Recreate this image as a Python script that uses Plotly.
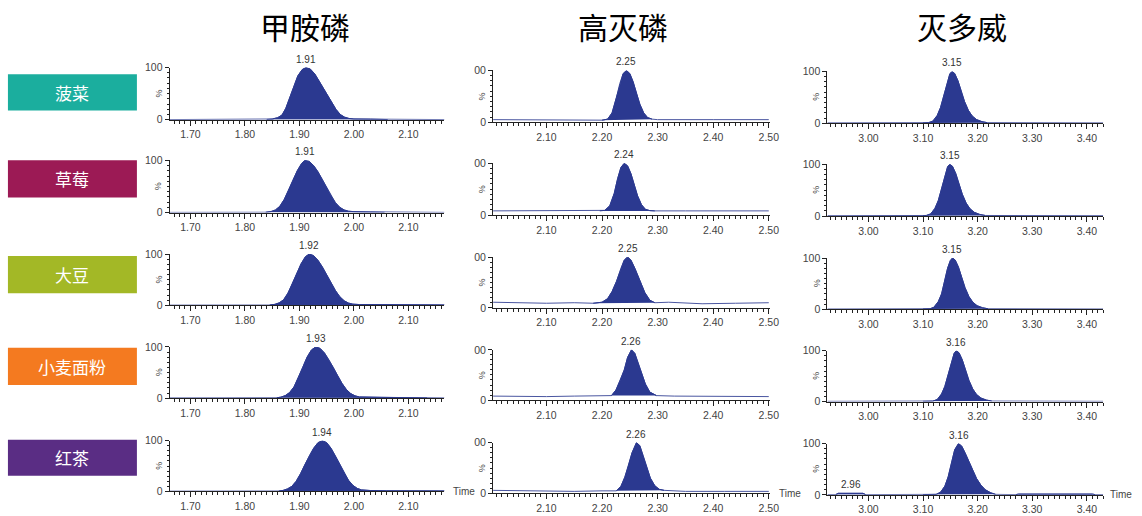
import plotly.graph_objects as go

W, H = 1142, 516

# ---------------- data ----------------
compounds = ["甲胺磷", "高灭磷", "灭多威"]
samples = ["菠菜", "草莓", "大豆", "小麦面粉", "红茶"]
rt_labels = [
    ["1.91", "1.91", "1.92", "1.93", "1.94"],
    ["2.25", "2.24", "2.25", "2.26", "2.26"],
    ["3.15", "3.15", "3.15", "3.16", "3.16"],
]
x_tick_values = [
    [1.70, 1.80, 1.90, 2.00, 2.10],
    [2.10, 2.20, 2.30, 2.40, 2.50],
    [3.00, 3.10, 3.20, 3.30, 3.40],
]
y_tick_values = [0, 100]
y_tick_text = [["0", "100"], ["0", "00"], ["0", "100"]]

# 甲胺磷 (column 1)
time_c1_r1 = [1.662, 1.75, 1.84, 1.850, 1.860, 1.868, 1.875, 1.883, 1.890, 1.897, 1.905, 1.912, 1.920, 1.928, 1.935, 1.943, 1.951, 1.959, 1.967, 1.975, 1.983, 1.991, 2.000, 2.030, 2.058, 2.062, 2.166]
inten_c1_r1 = [0.4, 0.4, 0.6, 1.5, 4, 9, 22, 45, 66, 84, 96, 100, 97, 88, 76, 62, 49, 34, 20, 10, 5, 2.5, 1.6, 1.3, 1.0, 0.4, 0.4]
time_c1_r2 = [1.662, 1.75, 1.838, 1.848, 1.856, 1.864, 1.872, 1.880, 1.888, 1.896, 1.904, 1.910, 1.918, 1.926, 1.934, 1.942, 1.950, 1.958, 1.966, 1.974, 1.982, 1.990, 2.000, 2.030, 2.052, 2.056, 2.166]
inten_c1_r2 = [0.4, 0.4, 0.6, 2, 5, 12, 25, 42, 62, 80, 94, 100, 98, 90, 78, 63, 47, 32, 19, 10, 5, 2.6, 1.8, 1.4, 1.2, 0.4, 0.4]
time_c1_r3 = [1.662, 1.75, 1.845, 1.855, 1.863, 1.871, 1.879, 1.887, 1.895, 1.903, 1.911, 1.918, 1.926, 1.934, 1.942, 1.950, 1.958, 1.966, 1.974, 1.982, 1.990, 1.998, 2.010, 2.050, 2.100, 2.130, 2.166]
inten_c1_r3 = [0.4, 0.4, 0.6, 2, 5, 11, 24, 42, 62, 81, 95, 100, 97, 88, 75, 60, 44, 29, 17, 9, 4.5, 2.4, 1.6, 1.2, 1.0, 1.2, 0.8]
time_c1_r4 = [1.662, 1.75, 1.858, 1.866, 1.874, 1.882, 1.890, 1.898, 1.906, 1.914, 1.922, 1.930, 1.938, 1.946, 1.954, 1.962, 1.970, 1.978, 1.986, 1.994, 2.002, 2.010, 2.050, 2.100, 2.130, 2.134, 2.166]
inten_c1_r4 = [0.4, 0.4, 0.7, 2, 5, 11, 22, 40, 60, 80, 94, 100, 97, 88, 75, 60, 44, 29, 17, 9, 4.5, 2.4, 1.6, 1.3, 1.1, 0.4, 0.4]
time_c1_r5 = [1.662, 1.75, 1.862, 1.870, 1.878, 1.886, 1.894, 1.902, 1.910, 1.918, 1.926, 1.934, 1.942, 1.950, 1.958, 1.966, 1.974, 1.982, 1.990, 1.998, 2.006, 2.014, 2.030, 2.060, 2.100, 2.140, 2.166]
inten_c1_r5 = [0.5, 0.5, 0.8, 2, 5, 10, 20, 35, 53, 70, 85, 96, 100, 96, 85, 70, 53, 36, 22, 12, 6, 3, 1.8, 1.2, 0.8, 1.0, 1.0]

# 高灭磷 (column 2)
time_c2_r1 = [2.004, 2.040, 2.045, 2.150, 2.200, 2.210, 2.218, 2.226, 2.232, 2.238, 2.244, 2.250, 2.256, 2.262, 2.268, 2.275, 2.282, 2.290, 2.300, 2.400, 2.500]
inten_c2_r1 = [5, 5, 4, 4, 4, 6, 18, 48, 75, 94, 100, 94, 78, 56, 35, 18, 9, 6, 5, 5, 5]
time_c2_r2 = [2.004, 2.100, 2.150, 2.196, 2.205, 2.214, 2.222, 2.228, 2.234, 2.240, 2.246, 2.252, 2.258, 2.264, 2.271, 2.278, 2.286, 2.295, 2.350, 2.420, 2.500]
inten_c2_r2 = [8, 8, 8, 8, 9, 18, 42, 70, 92, 100, 95, 80, 58, 37, 20, 11, 8.5, 8, 8, 8, 8]
time_c2_r3 = [2.004, 2.050, 2.100, 2.150, 2.184, 2.200, 2.210, 2.218, 2.226, 2.234, 2.240, 2.246, 2.252, 2.259, 2.268, 2.277, 2.286, 2.295, 2.320, 2.380, 2.440, 2.500]
inten_c2_r3 = [11, 10, 9, 10, 9, 11, 18, 32, 52, 78, 94, 100, 94, 78, 52, 30, 15, 10, 11, 8, 9, 10]
time_c2_r4 = [2.004, 2.050, 2.100, 2.150, 2.200, 2.217, 2.225, 2.233, 2.240, 2.246, 2.253, 2.259, 2.265, 2.271, 2.278, 2.286, 2.298, 2.330, 2.400, 2.420, 2.500]
inten_c2_r4 = [8, 7, 7, 8, 8, 9, 20, 40, 60, 85, 100, 93, 75, 55, 32, 16, 9, 8, 7, 8, 7]
time_c2_r5 = [2.004, 2.050, 2.100, 2.150, 2.200, 2.226, 2.234, 2.241, 2.247, 2.254, 2.262, 2.268, 2.274, 2.280, 2.287, 2.295, 2.303, 2.312, 2.350, 2.420, 2.500]
inten_c2_r5 = [6, 5, 4, 4, 5, 5, 14, 32, 52, 80, 100, 94, 74, 52, 30, 15, 8, 6, 4, 4, 4]

# 灭多威 (column 3)
time_c3_r1 = [2.925, 3.000, 3.100, 3.110, 3.118, 3.126, 3.132, 3.138, 3.144, 3.149, 3.153, 3.158, 3.164, 3.170, 3.176, 3.183, 3.190, 3.198, 3.208, 3.218, 3.300, 3.430]
inten_c3_r1 = [0.5, 0.5, 0.5, 1, 4, 15, 30, 55, 80, 95, 100, 96, 82, 62, 42, 25, 14, 7, 3, 1, 0.5, 0.5]
time_c3_r2 = [2.925, 3.000, 3.100, 3.106, 3.114, 3.122, 3.128, 3.134, 3.140, 3.145, 3.149, 3.154, 3.160, 3.166, 3.172, 3.179, 3.186, 3.194, 3.204, 3.214, 3.300, 3.430]
inten_c3_r2 = [0.5, 0.5, 0.5, 1, 4, 15, 30, 55, 80, 95, 100, 96, 82, 62, 42, 25, 14, 7, 3, 1, 0.5, 0.5]
time_c3_r3 = [2.925, 3.000, 3.100, 3.113, 3.120, 3.128, 3.134, 3.140, 3.145, 3.150, 3.154, 3.159, 3.165, 3.171, 3.177, 3.184, 3.191, 3.199, 3.209, 3.219, 3.300, 3.430]
inten_c3_r3 = [0.5, 0.5, 0.5, 1, 4, 15, 30, 55, 80, 95, 100, 96, 82, 62, 42, 25, 14, 7, 3, 1, 0.5, 0.5]
time_c3_r4 = [2.925, 3.000, 3.100, 3.118, 3.126, 3.134, 3.140, 3.146, 3.152, 3.157, 3.161, 3.166, 3.172, 3.178, 3.184, 3.191, 3.198, 3.206, 3.216, 3.226, 3.300, 3.430]
inten_c3_r4 = [0.5, 0.5, 0.5, 1, 4, 15, 30, 55, 80, 95, 100, 96, 82, 62, 42, 25, 14, 7, 3, 1, 0.5, 0.5]
time_c3_r5 = [2.925, 2.940, 2.945, 2.990, 2.995, 3.100, 3.124, 3.132, 3.140, 3.146, 3.152, 3.158, 3.165, 3.171, 3.177, 3.184, 3.191, 3.198, 3.206, 3.214, 3.224, 3.233, 3.270, 3.275, 3.410, 3.415, 3.430]
inten_c3_r5 = [0.5, 0.5, 3, 3, 0.5, 0.5, 1, 5, 17, 35, 62, 88, 100, 95, 82, 65, 48, 32, 19, 10, 4, 1, 0.5, 1.5, 1.5, 0.5, 0.5]

# integration windows (filled regions)
windows = {
    (0, 0): [(1.84, 2.062)], (0, 1): [(1.838, 2.056)], (0, 2): [(1.845, 2.166)],
    (0, 3): [(1.858, 2.134)], (0, 4): [(1.862, 2.166)],
    (1, 0): [(2.200, 2.290)], (1, 1): [(2.196, 2.295)], (1, 2): [(2.184, 2.295)],
    (1, 3): [(2.217, 2.298)], (1, 4): [(2.226, 2.312)],
    (2, 0): [(3.100, 3.218)], (2, 1): [(3.100, 3.214)], (2, 2): [(3.100, 3.219)],
    (2, 3): [(3.100, 3.226)], (2, 4): [(2.940, 2.995), (3.100, 3.233), (3.270, 3.415)],
}
minor_labels = {(2, 4): [("2.96", 2.9675, 3)]}

series = {
    (0, 0): (time_c1_r1, inten_c1_r1), (0, 1): (time_c1_r2, inten_c1_r2), (0, 2): (time_c1_r3, inten_c1_r3),
    (0, 3): (time_c1_r4, inten_c1_r4), (0, 4): (time_c1_r5, inten_c1_r5),
    (1, 0): (time_c2_r1, inten_c2_r1), (1, 1): (time_c2_r2, inten_c2_r2), (1, 2): (time_c2_r3, inten_c2_r3),
    (1, 3): (time_c2_r4, inten_c2_r4), (1, 4): (time_c2_r5, inten_c2_r5),
    (2, 0): (time_c3_r1, inten_c3_r1), (2, 1): (time_c3_r2, inten_c3_r2), (2, 2): (time_c3_r3, inten_c3_r3),
    (2, 3): (time_c3_r4, inten_c3_r4), (2, 4): (time_c3_r5, inten_c3_r5),
}

# ---------------- layout / style ----------------
sample_colors = ["#1BAE9E", "#9C1A55", "#A3B826", "#F47A20", "#5A2D84"]
box_y = [(70, 107), (158, 196), (256, 294), (350, 388), (444, 481)]
col_x = [(171, 448), (497, 776), (834, 1112)]
x_ranges = [(1.662, 2.166), (2.004, 2.502), (2.925, 3.43)]
y100 = [[63, 158, 254, 349, 445], [66, 161, 257, 352, 447], [67, 162, 258, 353, 448]]
y0 = [[116.5, 211.5, 306.5, 401.5, 497], [119, 214, 309, 403.5, 499], [120, 215, 310.5, 405, 500.5]]
title_x = [307, 628, 970]
time_x = [455, 783, 1117]

FILL = "#2B3990"
LINE = "#4A56A0"
AX = "#222222"
TXT = "#444444"
FONT = "Liberation Sans, Arial, sans-serif"
CJK = "Noto Sans CJK SC"


def px(x):
    return x / W


def py(y):
    return 1 - y / H


fig = go.Figure()
layout = dict(
    width=W, height=H, margin=dict(l=0, r=0, t=0, b=0), autosize=False,
    paper_bgcolor="white", plot_bgcolor="white", showlegend=False,
    shapes=[], annotations=[],
)

idx = 0
for c in range(3):
    for r in range(5):
        idx += 1
        xa = "x" if idx == 1 else f"x{idx}"
        ya = "y" if idx == 1 else f"y{idx}"
        xkey = "xaxis" if idx == 1 else f"xaxis{idx}"
        ykey = "yaxis" if idx == 1 else f"yaxis{idx}"
        t, v = series[(c, r)]
        fig.add_trace(go.Scatter(x=t, y=v, mode="lines", xaxis=xa, yaxis=ya,
                                 line=dict(color=LINE, width=1), hoverinfo="skip"))
        for (a, b) in windows[(c, r)]:
            sx = [ti for ti in t if a <= ti <= b]
            sy = [vi for ti, vi in zip(t, v) if a <= ti <= b]
            fig.add_trace(go.Scatter(x=sx, y=sy, mode="lines", fill="toself", fillcolor=FILL,
                                     xaxis=xa, yaxis=ya, line=dict(color=FILL, width=1),
                                     hoverinfo="skip"))
        layout[xkey] = dict(
            domain=[px(col_x[c][0]), px(col_x[c][1])], range=list(x_ranges[c]), anchor=ya,
            showline=True, linecolor=AX, linewidth=1, mirror=False,
            tickmode="array", tickvals=x_tick_values[c],
            ticktext=[f"{v_:.2f}" for v_ in x_tick_values[c]],
            ticks="outside", ticklen=5, tickcolor=AX, tickwidth=1,
            minor=dict(tickmode="linear", tick0=0, dtick=0.01, ticks="outside", ticklen=3,
                       tickcolor=AX, tickwidth=1, showgrid=False),
            showgrid=False, zeroline=False, tickfont=dict(family=FONT, size=10.5, color=TXT),
        )
        layout[ykey] = dict(
            domain=[py(y0[c][r]), py(y100[c][r])], range=[0, 100], anchor=xa,
            showline=True, linecolor=AX, linewidth=1,
            tickmode="array", tickvals=y_tick_values, ticktext=y_tick_text[c],
            ticks="outside", ticklen=4, tickcolor=AX, tickwidth=1,
            minor=dict(tickmode="linear", tick0=0, dtick=10, ticks="outside", ticklen=2,
                       tickcolor=AX, tickwidth=1, showgrid=False),
            showgrid=False, zeroline=False, tickfont=dict(family=FONT, size=10.5, color=TXT),
        )
        layout["annotations"].append(dict(
            x=px(col_x[c][0] - 11), y=py((y0[c][r] + y100[c][r]) / 2), xref="paper", yref="paper",
            xanchor="center", yanchor="middle",
            text="%", showarrow=False, textangle=-90, font=dict(family=FONT, size=9, color=TXT)))
        apex = t[v.index(max(v))]
        layout["annotations"].append(dict(
            x=apex, y=100, xref=xa, yref=ya, text=rt_labels[c][r], showarrow=False,
            xanchor="center", yanchor="bottom", yshift=1,
            font=dict(family=FONT, size=10, color="#333333")))
        for (txt, tx, ty) in minor_labels.get((c, r), []):
            layout["annotations"].append(dict(
                x=tx, y=ty, xref=xa, yref=ya, text=txt, showarrow=False,
                xanchor="center", yanchor="bottom", yshift=1,
                font=dict(family=FONT, size=10, color="#333333")))
        if r == 4:
            layout["annotations"].append(dict(
                x=px(time_x[c]), y=py(y0[c][r]), xref="paper", yref="paper", text="Time",
                showarrow=False, xanchor="left", yanchor="middle",
                font=dict(family=FONT, size=10, color=TXT)))

for c in range(3):
    layout["annotations"].append(dict(
        x=px(title_x[c]), y=py(20), xref="paper", yref="paper", text=compounds[c],
        xanchor="center", yanchor="middle",
        showarrow=False, font=dict(family=CJK, size=30, color="black")))

for r in range(5):
    layout["shapes"].append(dict(
        type="rect", xref="paper", yref="paper", x0=px(8), x1=px(138),
        y0=py(box_y[r][1]), y1=py(box_y[r][0]), fillcolor=sample_colors[r], line=dict(width=0)))
    layout["annotations"].append(dict(
        x=px(73), y=py((box_y[r][0] + box_y[r][1]) / 2), xref="paper", yref="paper",
        xanchor="center", yanchor="middle",
        text=samples[r], showarrow=False, font=dict(family=CJK, size=17, color="white")))

fig.update_layout(**layout)
fig.write_html(
    "out.html",
    config={"displayModeBar": False},
    post_script=(
        "var de=document.documentElement;de.style.margin='0';de.style.padding='0';"
        "de.style.overflow='hidden';"
        "var b=document.body;b.style.margin='0';b.style.padding='0';b.style.overflow='hidden';"
        "var gd=document.getElementById('{plot_id}');gd.style.position='fixed';"
        "gd.style.left='0px';gd.style.top='0px';"
    ),
)
